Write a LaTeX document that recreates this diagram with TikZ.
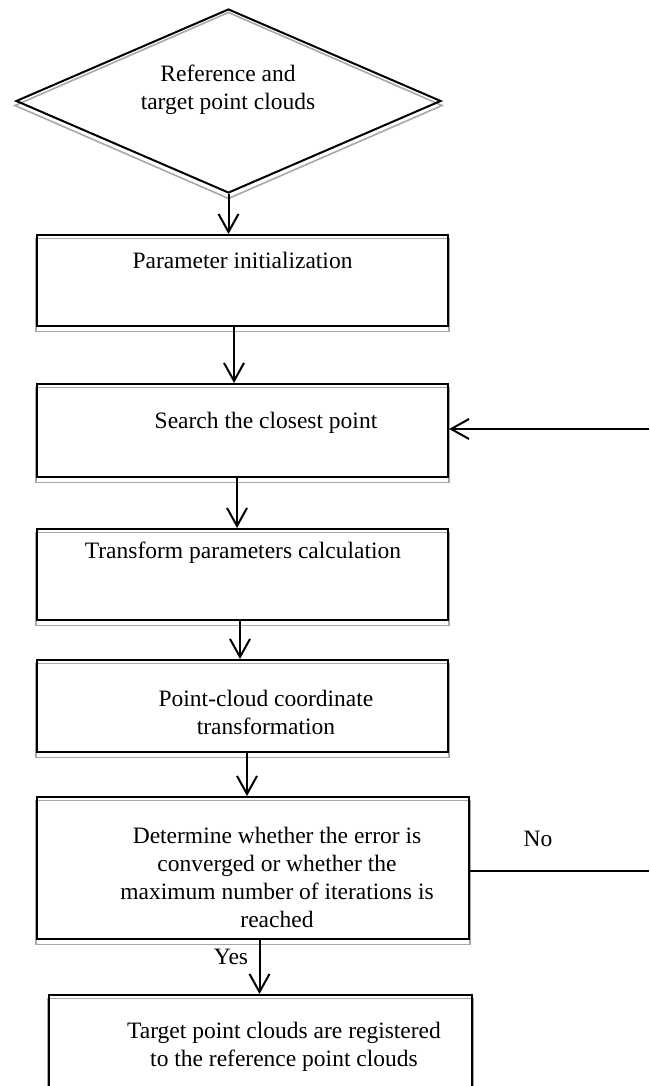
\documentclass[tikz,border=0pt]{standalone}
\usepackage{fontspec}
\setmainfont{Liberation Serif}
\usetikzlibrary{arrows.meta,shapes.geometric,backgrounds}
\definecolor{shadowgray}{HTML}{A8A8A8}
\begin{document}
\begin{tikzpicture}[x=1pt,y=-1pt,
  every node/.style={font=\fontsize{23.5}{28}\selectfont},
  box/.style={draw, line width=2pt, rectangle, inner sep=0pt},
  txt/.style={align=center, inner sep=0pt},
  shad/.style={draw=shadowgray, line width=1.6pt},
  line/.style={line width=2pt},
  arr/.style={line width=2pt, -{Straight Barb[length=18pt,width=20pt]}}]
\useasboundingbox (0,0) rectangle (649,1086);
% shapes
\node[draw, line width=2pt, shape=diamond, aspect=2.3, inner sep=0pt,
      minimum width=425pt, minimum height=184pt] (d) at (228.5,101) {};
\node[txt] (dt) at (228,90) {Reference and\\target point clouds};
\node[box, minimum width=411pt, minimum height=91pt] (b1) at (242.5,280.5) {};
\node[txt] (t1) at (242.5,260) {Parameter initialization};
\node[box, minimum width=411pt, minimum height=93pt] (b2) at (242.5,430.5) {};
\node[txt] (t2) at (266,423) {Search the closest point};
\node[box, minimum width=411pt, minimum height=91pt] (b3) at (242.5,574.5) {};
\node[txt] (t3) at (243,553) {Transform parameters calculation};
\node[box, minimum width=411pt, minimum height=92pt] (b4) at (242.5,706) {};
\node[txt] (t4) at (266,712) {Point-cloud coordinate\\transformation};
\node[box, minimum width=432pt, minimum height=142pt] (b5) at (253,868) {};
\node[txt] (t5) at (277,877) {Determine whether the error is\\converged or whether the\\maximum number of iterations is\\reached};
\node[box, minimum width=423pt, minimum height=110pt] (b6) at (260.5,1050) {};
\node[txt] (t6) at (284,1046.5) {Target point clouds are registered\\to the reference point clouds};
\node[txt] (no) at (538,839) {No};
\node[txt] (yes) at (231,957) {Yes};
% shadows
\begin{scope}[on background layer]
  \draw[shad] ([yshift=-4.5pt]d.north) -- ([yshift=-4.5pt]d.east) -- ([yshift=-4.5pt]d.south) -- ([yshift=-4.5pt]d.west) -- cycle;
  \foreach \b in {b1,b2,b3,b4,b5,b6}
    \draw[shad] ([yshift=-4.5pt]\b.north west) rectangle ([yshift=-4.5pt]\b.south east);
\end{scope}
% helper coordinates
\coordinate (x2) at (234,0);
\coordinate (x3) at (237,0);
\coordinate (x4) at (240,0);
\coordinate (x5) at (247,0);
\coordinate (x6) at (259.5,0);
\coordinate (nr) at (649,871);
\coordinate (fr) at (649,429);
% connectors
\draw[arr] (d.south) -- (d.south |- b1.north);
\draw[arr] (b1.south -| x2) -- (b2.north -| x2);
\draw[arr] (b2.south -| x3) -- (b3.north -| x3);
\draw[arr] (b3.south -| x4) -- (b4.north -| x4);
\draw[arr] (b4.south -| x5) -- (b5.north -| x5);
\draw[arr] (b5.south -| x6) -- (b6.north -| x6);
\draw[line] (b5.east |- nr) -- (nr);
\draw[arr] (fr) -- (b2.east |- fr);
\end{tikzpicture}
\end{document}
